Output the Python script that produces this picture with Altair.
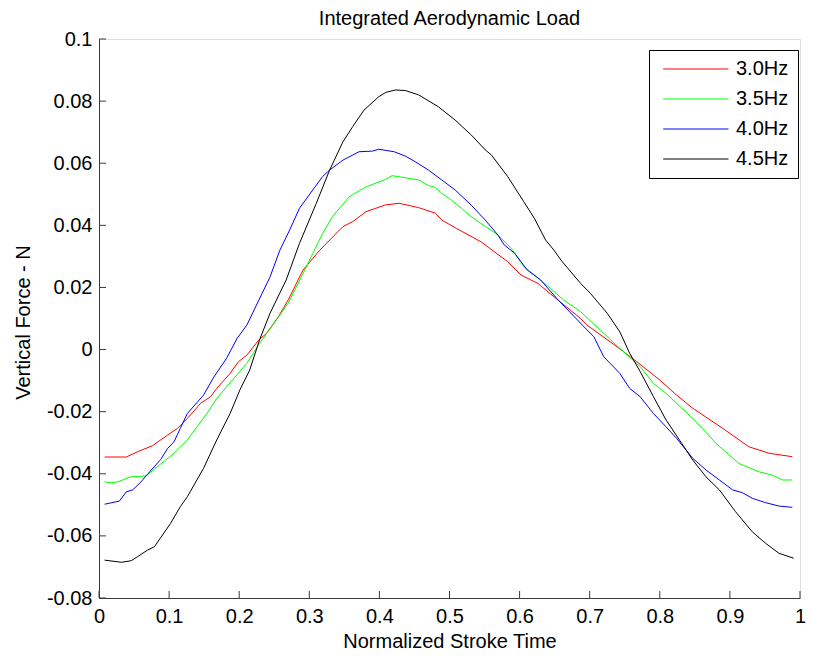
import altair as alt
import pandas as pd

series_names = ["3.0Hz", "3.5Hz", "4.0Hz", "4.5Hz"]
series_colors = ["#ff0000", "#00ff00", "#0000ff", "#000000"]

t_30 = [0.008, 0.039, 0.055, 0.076, 0.098, 0.112, 0.126, 0.145, 0.159, 0.168, 0.187, 0.199,
        0.211, 0.228, 0.239, 0.256, 0.270, 0.291, 0.315, 0.348, 0.362, 0.381, 0.395, 0.409,
        0.428, 0.456, 0.480, 0.489, 0.510, 0.545, 0.583, 0.602, 0.626, 0.649, 0.687, 0.696,
        0.739, 0.767, 0.800, 0.821, 0.847, 0.890, 0.927, 0.956, 0.989]
f_30 = [-0.0346, -0.0346, -0.0329, -0.0310, -0.0275, -0.0254, -0.0222, -0.0173, -0.0152,
        -0.0125, -0.0077, -0.0039, -0.0018, 0.0031, 0.0052, 0.0106, 0.0160, 0.0256, 0.0320,
        0.0396, 0.0412, 0.0444, 0.0455, 0.0466, 0.0471, 0.0457, 0.0439, 0.0417, 0.0390,
        0.0347, 0.0283, 0.0240, 0.0213, 0.0170, 0.0100, 0.0079, 0.0009, -0.0039, -0.0098,
        -0.0141, -0.0189, -0.0254, -0.0313, -0.0334, -0.0345]

t_35 = [0.008, 0.017, 0.027, 0.045, 0.067, 0.107, 0.126, 0.154, 0.168, 0.182, 0.211, 0.229,
        0.248, 0.270, 0.291, 0.319, 0.333, 0.357, 0.381, 0.409, 0.418, 0.432, 0.456, 0.470,
        0.480, 0.489, 0.503, 0.517, 0.531, 0.545, 0.569, 0.588, 0.606, 0.630, 0.644, 0.663,
        0.687, 0.715, 0.743, 0.772, 0.791, 0.809, 0.824, 0.847, 0.861, 0.880, 0.913, 0.942,
        0.960, 0.975, 0.989]
f_35 = [-0.0426, -0.0429, -0.0426, -0.0410, -0.0407, -0.0334, -0.0291, -0.0206, -0.0157,
        -0.0120, -0.0044, 0.0020, 0.0079, 0.0150, 0.0245, 0.0374, 0.0428, 0.0492, 0.0524,
        0.0548, 0.0560, 0.0555, 0.0546, 0.0528, 0.0522, 0.0503, 0.0481, 0.0455, 0.0428,
        0.0406, 0.0369, 0.0326, 0.0267, 0.0224, 0.0197, 0.0159, 0.0122, 0.0063, 0.0004,
        -0.0055, -0.0109, -0.0141, -0.0173, -0.0222, -0.0254, -0.0302, -0.0367, -0.0394,
        -0.0404, -0.0420, -0.0420]

t_40 = [0.008, 0.029, 0.039, 0.048, 0.060, 0.067, 0.088, 0.098, 0.107, 0.116, 0.126, 0.149,
        0.164, 0.182, 0.197, 0.211, 0.228, 0.244, 0.258, 0.272, 0.286, 0.305, 0.319, 0.329,
        0.348, 0.371, 0.390, 0.399, 0.421, 0.437, 0.451, 0.470, 0.489, 0.508, 0.531, 0.551,
        0.569, 0.578, 0.593, 0.611, 0.630, 0.654, 0.692, 0.706, 0.720, 0.743, 0.757, 0.772,
        0.791, 0.809, 0.824, 0.847, 0.866, 0.885, 0.904, 0.918, 0.932, 0.951, 0.970, 0.989]
f_40 = [-0.0498, -0.0488, -0.0458, -0.0452, -0.0426, -0.0407, -0.0354, -0.0318, -0.0297,
        -0.0254, -0.0206, -0.0147, -0.0088, -0.0028, 0.0036, 0.0079, 0.0159, 0.0234, 0.0320,
        0.0385, 0.0455, 0.0514, 0.0557, 0.0578, 0.0610, 0.0637, 0.0639, 0.0645, 0.0637,
        0.0623, 0.0605, 0.0578, 0.0546, 0.0514, 0.0465, 0.0417, 0.0369, 0.0337, 0.0310,
        0.0256, 0.0224, 0.0162, 0.0073, 0.0041, -0.0023, -0.0077, -0.0125, -0.0152, -0.0206,
        -0.0249, -0.0286, -0.0350, -0.0388, -0.0420, -0.0452, -0.0461, -0.0479, -0.0493,
        -0.0504, -0.0508]

t_45 = [0.008, 0.032, 0.046, 0.055, 0.069, 0.079, 0.102, 0.116, 0.126, 0.149, 0.168, 0.187,
        0.201, 0.215, 0.229, 0.244, 0.267, 0.286, 0.310, 0.329, 0.348, 0.362, 0.378, 0.399,
        0.409, 0.423, 0.437, 0.456, 0.484, 0.508, 0.531, 0.551, 0.560, 0.583, 0.606, 0.621,
        0.637, 0.649, 0.659, 0.687, 0.701, 0.725, 0.743, 0.757, 0.772, 0.791, 0.809, 0.828,
        0.847, 0.866, 0.885, 0.908, 0.932, 0.951, 0.970, 0.991]
f_45 = [-0.0678, -0.0685, -0.0680, -0.0667, -0.0646, -0.0635, -0.0560, -0.0506, -0.0474,
        -0.0383, -0.0291, -0.0206, -0.0130, -0.0066, 0.0031, 0.0117, 0.0224, 0.0342, 0.0471,
        0.0578, 0.0669, 0.0718, 0.0771, 0.0814, 0.0828, 0.0836, 0.0834, 0.0820, 0.0782,
        0.0739, 0.0691, 0.0643, 0.0626, 0.0557, 0.0476, 0.0423, 0.0353, 0.0320, 0.0288,
        0.0213, 0.0181, 0.0117, 0.0057, -0.0012, -0.0071, -0.0152, -0.0227, -0.0291, -0.0356,
        -0.0410, -0.0452, -0.0522, -0.0587, -0.0624, -0.0656, -0.0672]

x_ticks = [0, 0.1, 0.2, 0.3, 0.4, 0.5, 0.6, 0.7, 0.8, 0.9, 1.0]
y_ticks = [-0.08, -0.06, -0.04, -0.02, 0, 0.02, 0.04, 0.06, 0.08, 0.1]

rows = []
for name, ts, fs in zip(series_names, [t_30, t_35, t_40, t_45], [f_30, f_35, f_40, f_45]):
    for i, (t, f) in enumerate(zip(ts, fs)):
        rows.append({"t": t, "f": f, "series": name, "order": i})
df = pd.DataFrame(rows)

W, H = 701, 559
FONT = "Liberation Sans"
FS = 20
AXIS_COLOR = "#3a3a3a"
TICK = 7

xscale = alt.Scale(domain=[0, 1], nice=False, zero=False)
yscale = alt.Scale(domain=[-0.08, 0.1], nice=False, zero=False)
label_expr = "replace(format(datum.value, '~g'), '\u2212', '-')"

x_axis = alt.Axis(
    values=x_ticks, title="Normalized Stroke Time", tickSize=0, labelPadding=8,
    labelExpr=label_expr, grid=False, domainColor=AXIS_COLOR, domainWidth=1,
    labelFont=FONT, labelFontSize=FS, labelColor="black", labelFlush=False,
    titleFont=FONT, titleFontSize=FS, titleFontWeight="normal", titleColor="black",
    titleBaseline="alphabetic", titleY=49, labelOverlap=False)
y_axis = alt.Axis(
    values=y_ticks, title="Vertical Force - N", tickSize=0, labelPadding=7,
    labelExpr=label_expr, grid=False, domainColor=AXIS_COLOR, domainWidth=1,
    labelFont=FONT, labelFontSize=FS, labelColor="black", labelFlush=False,
    titleFont=FONT, titleFontSize=FS, titleFontWeight="normal", titleColor="black",
    titleBaseline="alphabetic", titleAngle=270, titleX=-70, titleY=283,
    labelOverlap=False)

lines = alt.Chart(df).mark_line(strokeWidth=1, clip=True).encode(
    x=alt.X("t:Q", scale=xscale, axis=x_axis),
    y=alt.Y("f:Q", scale=yscale, axis=y_axis),
    color=alt.Color("series:N", scale=alt.Scale(domain=series_names, range=series_colors),
                    legend=alt.Legend(
                        title=None, orient="none", legendX=550, legendY=11,
                        symbolType="M-0.6,0H7.56", symbolSize=256, symbolStrokeWidth=1,
                        labelFont=FONT, labelFontSize=FS, labelColor="black",
                        labelOffset=58, rowPadding=10, padding=9,
                        strokeColor="black", fillColor="white", cornerRadius=0)),
    order="order:Q",
)

xt = pd.DataFrame({"t": x_ticks})
yt = pd.DataFrame({"f": y_ticks})

xtick_marks = alt.Chart(xt).mark_rule(color=AXIS_COLOR, strokeWidth=1).encode(
    x=alt.X("t:Q", scale=xscale, axis=x_axis),
    y=alt.value(H), y2=alt.value(H - TICK),
)
ytick_marks = alt.Chart(yt).mark_rule(color=AXIS_COLOR, strokeWidth=1).encode(
    y=alt.Y("f:Q", scale=yscale, axis=y_axis),
    x=alt.value(0), x2=alt.value(TICK),
)

chart = alt.layer(lines, xtick_marks, ytick_marks).properties(
    width=W, height=H,
    title=alt.TitleParams("Integrated Aerodynamic Load", font=FONT, fontSize=FS,
                          fontWeight="normal", color="black", anchor="middle",
                          frame="group", baseline="alphabetic", offset=4, dy=20),
    autosize=alt.AutoSizeParams(type="none"),
    padding={"left": 91, "top": 31, "right": 6, "bottom": 60},
).configure_view(strokeWidth=0).configure(background="white")

chart.save("out.html", embed_options={"renderer": "svg", "actions": False})
